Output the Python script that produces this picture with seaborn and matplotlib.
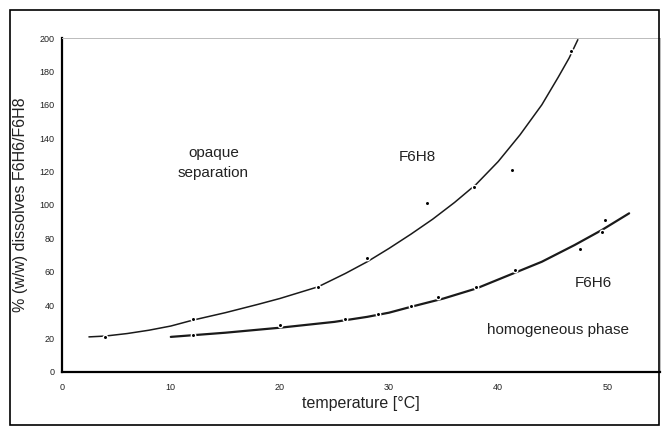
import matplotlib
matplotlib.use("Agg")
import matplotlib.pyplot as plt
import seaborn as sns
import pandas as pd
from matplotlib.patches import Rectangle

# measured points
f6h8_temp = [4, 12, 23.5, 28, 33.5, 37.8, 41.3, 46.7]
f6h8_pct = [21, 31.5, 51, 68, 101, 111, 121, 192]
f6h6_temp = [12, 20, 26, 29, 32, 34.5, 38, 41.5, 47.5, 49.5, 49.8]
f6h6_pct = [22, 28, 31.5, 35, 39.5, 45, 51, 61, 73.5, 84, 91]

# hand-drawn curves
f6h8_curve_t = [2.5, 4, 6, 8, 10, 12, 15, 18, 20, 23.5, 26, 28, 30, 32, 34, 36, 38, 40, 42, 44, 45.5, 46.5, 47.3]
f6h8_curve_p = [21, 21.5, 23, 25, 27.5, 31, 35.5, 40.5, 44, 51, 59, 66, 74, 82.5, 91.5, 101.5, 112.5, 126, 142, 160, 176.5, 188, 199]
f6h6_curve_t = [10, 12, 15, 20, 25, 28, 30, 32, 35, 38, 41, 44, 47, 49.5, 52]
f6h6_curve_p = [21, 22, 23.5, 26.5, 30, 33, 35.5, 39, 44, 50, 58, 66, 76, 85, 95]

x_ticks = [0, 10, 20, 30, 40, 50]
y_ticks = [0, 20, 40, 60, 80, 100, 120, 140, 160, 180, 200]

sns.set_theme(style="white")
plt.rcParams["font.family"] = ["Liberation Sans", "DejaVu Sans"]

fig = plt.figure(figsize=(6.63, 4.32), dpi=100)
ax = fig.add_axes([0.093, 0.139, 0.902, 0.773])

c1 = pd.DataFrame({"t": f6h8_curve_t, "p": f6h8_curve_p})
c2 = pd.DataFrame({"t": f6h6_curve_t, "p": f6h6_curve_p})
sns.lineplot(data=c1, x="t", y="p", ax=ax, color="#1a1a1a", lw=1.1, sort=False)
sns.lineplot(data=c2, x="t", y="p", ax=ax, color="#1a1a1a", lw=1.6, sort=False)

d1 = pd.DataFrame({"t": f6h8_temp, "p": f6h8_pct})
d2 = pd.DataFrame({"t": f6h6_temp, "p": f6h6_pct})
for d in (d1, d2):
    sns.scatterplot(data=d, x="t", y="p", ax=ax, color="black", s=10,
                    edgecolor="white", linewidth=1.0, zorder=5)

ax.set_xlim(0, 54.8)
ax.set_ylim(0, 200)
ax.set_xticks(x_ticks)
ax.set_yticks(y_ticks)
ax.tick_params(axis="both", labelsize=6.5, length=3, width=1.2, color="black",
               direction="out", pad=2, labelcolor="#222222")
ax.tick_params(axis="x", pad=5)
for s in ("left", "bottom"):
    ax.spines[s].set_color("black")
    ax.spines[s].set_linewidth(1.6)
for s in ("top", "right"):
    ax.spines[s].set_color("#bbbbbb")
    ax.spines[s].set_linewidth(0.7)

ax.set_xlabel("temperature [°C]", fontsize=11.5, color="#222222", labelpad=3)
ax.set_ylabel("% (w/w) dissolves F6H6/F6H8", fontsize=11.5, color="#222222", labelpad=8)

ax.text(13.9, 125, "opaque\nseparation", fontsize=11, ha="center", va="center",
        linespacing=1.5, color="#222222")
ax.text(32.6, 129, "F6H8", fontsize=11, ha="center", va="center", color="#222222")
ax.text(48.7, 53, "F6H6", fontsize=11, ha="center", va="center", color="#222222")
ax.text(45.5, 25, "homogeneous phase", fontsize=11, ha="center", va="center", color="#222222")

fig.patches.append(Rectangle((10 / 663, 1 - 425 / 432), 649 / 663, 415 / 432,
                             transform=fig.transFigure, fill=False,
                             edgecolor="black", linewidth=1.2))

fig.savefig("out.png", dpi=100)
